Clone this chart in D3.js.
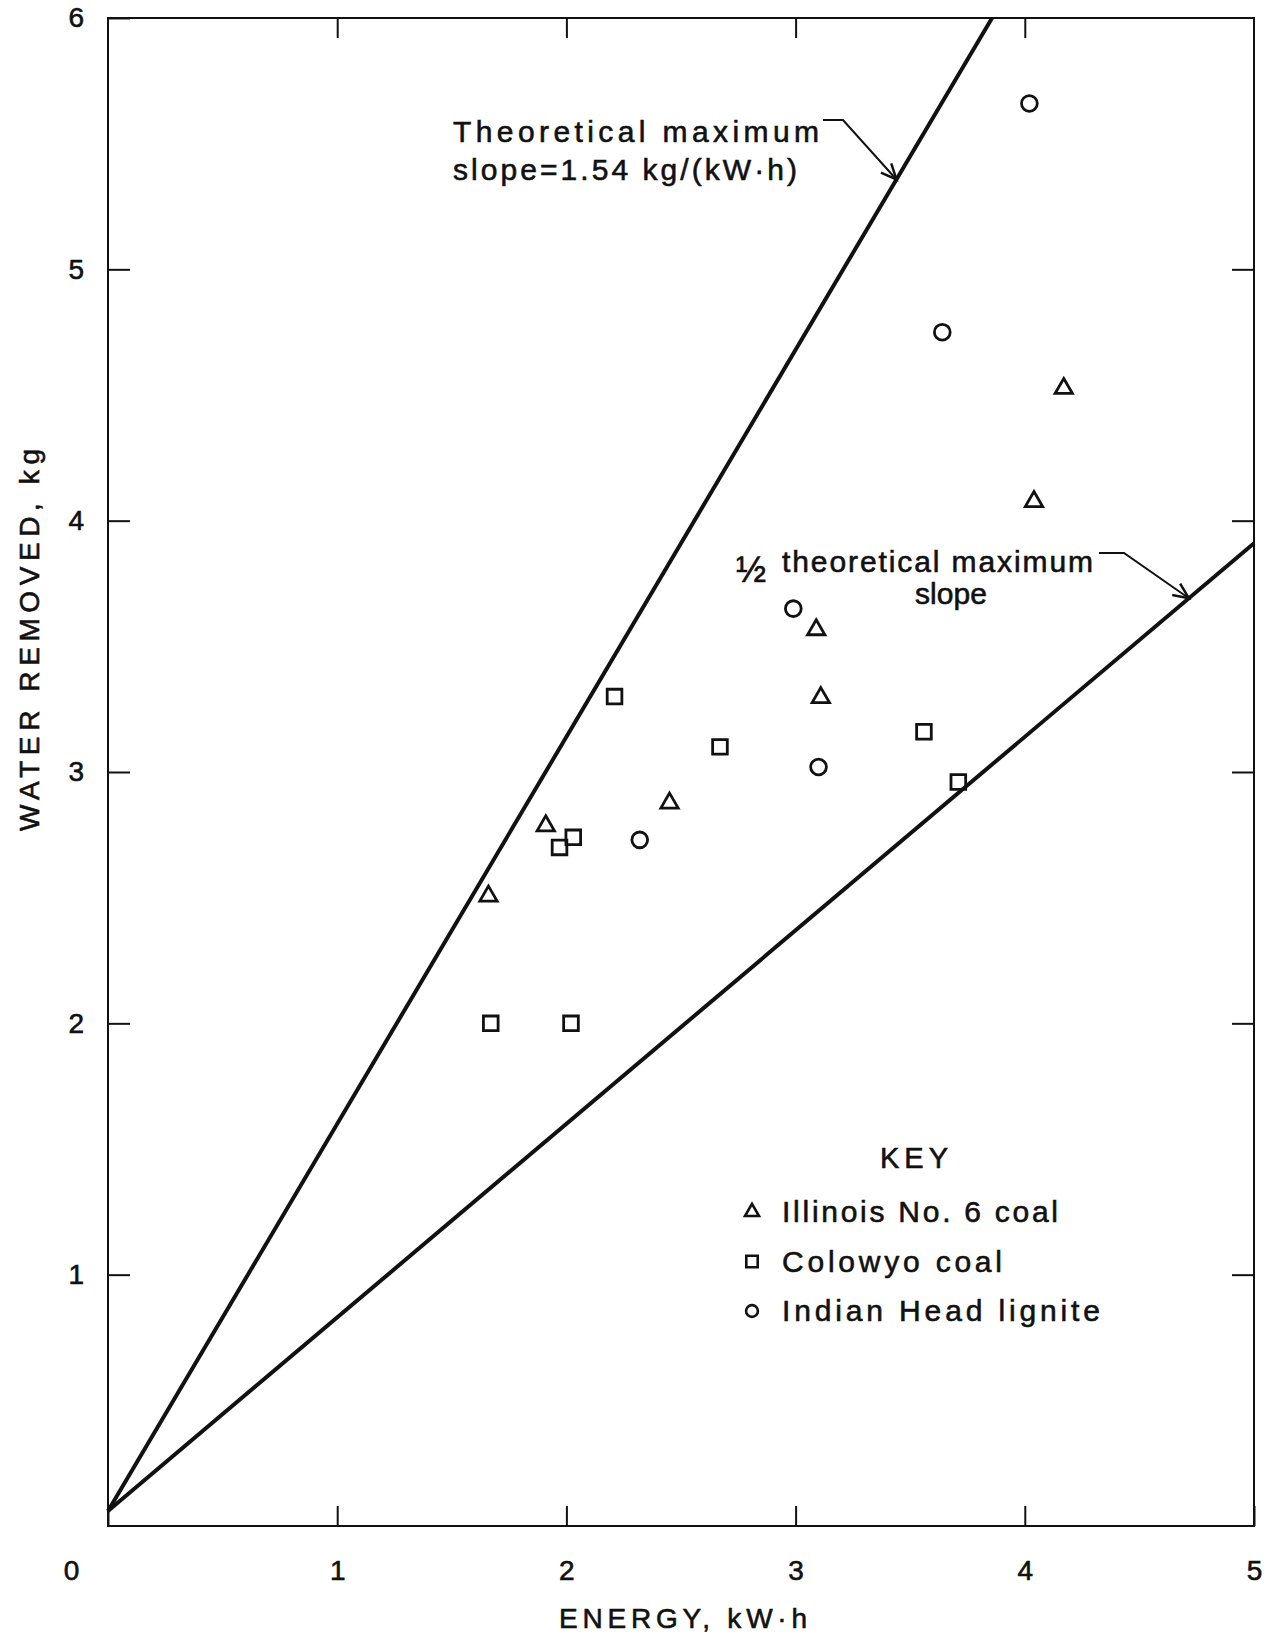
<!DOCTYPE html>
<html>
<head>
<meta charset="utf-8">
<script src="https://cdn.jsdelivr.net/npm/d3@7.9.0/dist/d3.min.js"></script>
<style>
  html, body { margin: 0; padding: 0; background: #fff; }
  svg { display: block; }
  text { font-family: "Liberation Sans", Arial, sans-serif; fill: #111; stroke: #111; stroke-width: 0.6px; }
</style>
</head>
<body>
<svg id="chart" width="1280" height="1638"></svg>
<script>
// data
const illinois = [
  [1.66, 2.51], [1.91, 2.79], [2.45, 2.88], [3.09, 3.57],
  [3.11, 3.30], [4.04, 4.08], [4.17, 4.53]
];
const colowyo = [
  [1.67, 2.00], [2.02, 2.00], [2.21, 3.30], [1.97, 2.70],
  [2.03, 2.74], [2.67, 3.10], [3.56, 3.16], [3.71, 2.96]
];
const indianHead = [
  [2.32, 2.73], [2.99, 3.65], [3.10, 3.02], [3.64, 4.75], [4.02, 5.66]
];
// theoretical lines: slope kg/(kW·h) and y where they leave the left axis
const slopes = [1.54, 0.77];
const intercept = 0.06;
const xTicks = [0, 1, 2, 3, 4, 5];
const yTicks = [1, 2, 3, 4, 5, 6];
const seriesNames = ['Illinois No. 6 coal', 'Colowyo coal', 'Indian Head lignite'];

const svg = d3.select('#chart');
const box = { left: 108, right: 1254, top: 18, bottom: 1526 };

const x = d3.scaleLinear().domain([0, 5]).range([box.left, box.right]);
const y = d3.scaleLinear().domain([0, 6]).range([box.bottom, box.top]);
const fmt = d3.format('d');

// axes with inward ticks on all four sides
const axisStyle = (g) => {
  g.select('.domain').remove();
  g.selectAll('.tick line').attr('stroke', '#111').attr('stroke-width', 2);
  g.selectAll('.tick text').style('font-size', '28px').attr('fill', '#111');
};

svg.append('g')
  .attr('transform', `translate(0,${box.bottom})`)
  .call(d3.axisBottom(x).tickValues(xTicks).tickFormat(fmt).tickSizeInner(-20).tickSizeOuter(0).tickPadding(34))
  .call(axisStyle)
  .selectAll('.tick')
  .filter(d => d === 0)
  .select('text').attr('dx', -37);

svg.append('g')
  .attr('transform', `translate(0,${box.top})`)
  .call(d3.axisTop(x).tickValues([1, 2, 3, 4]).tickSizeInner(-20).tickSizeOuter(0).tickFormat(''))
  .call(axisStyle);

svg.append('g')
  .attr('transform', `translate(${box.left},0)`)
  .call(d3.axisLeft(y).tickValues(yTicks).tickFormat(fmt).tickSizeInner(-22).tickSizeOuter(0).tickPadding(24))
  .call(axisStyle);

svg.append('g')
  .attr('transform', `translate(${box.right},0)`)
  .call(d3.axisRight(y).tickValues([1, 2, 3, 4, 5]).tickSizeInner(-22).tickSizeOuter(0).tickFormat(''))
  .call(axisStyle);

// frame
svg.append('rect')
  .attr('x', box.left).attr('y', box.top)
  .attr('width', box.right - box.left).attr('height', box.bottom - box.top)
  .attr('fill', 'none').attr('stroke', '#111').attr('stroke-width', 2);

// axis titles
svg.append('text')
  .attr('x', 683).attr('y', 1628)
  .attr('text-anchor', 'middle')
  .attr('textLength', 248).attr('lengthAdjust', 'spacing')
  .style('font-size', '28px')
  .text('ENERGY, kW·h');

svg.append('text')
  .attr('transform', 'translate(39,640) rotate(-90)')
  .attr('text-anchor', 'middle')
  .attr('textLength', 382).attr('lengthAdjust', 'spacing')
  .style('font-size', '28px')
  .text('WATER REMOVED, kg');

// slope lines, clipped to the frame
const line = d3.line().x(d => x(d[0])).y(d => y(d[1]));
slopes.forEach(s => {
  const xEnd = Math.min(5, (6 - intercept) / s);
  svg.append('path')
    .attr('d', line([[0, intercept], [xEnd, intercept + s * xEnd]]))
    .attr('fill', 'none').attr('stroke', '#111').attr('stroke-width', 4);
});

// annotations with leader arrows
function leader(points) {
  const [tx, ty] = points[points.length - 1];
  const [px, py] = points[points.length - 2];
  const ang = Math.atan2(ty - py, tx - px);
  const len = 17, spread = 0.42;
  svg.append('path')
    .attr('d', d3.line()(points))
    .attr('fill', 'none').attr('stroke', '#111').attr('stroke-width', 2);
  svg.append('path')
    .attr('d', d3.line()([
      [tx - len * Math.cos(ang - spread), ty - len * Math.sin(ang - spread)],
      [tx, ty],
      [tx - len * Math.cos(ang + spread), ty - len * Math.sin(ang + spread)]
    ]))
    .attr('fill', 'none').attr('stroke', '#111').attr('stroke-width', 2.5);
}

svg.append('text').attr('x', 453).attr('y', 142)
  .attr('textLength', 366).attr('lengthAdjust', 'spacing')
  .style('font-size', '30px').text('Theoretical maximum');
svg.append('text').attr('x', 453).attr('y', 180)
  .attr('textLength', 344).attr('lengthAdjust', 'spacing')
  .style('font-size', '30px').text('slope=1.54 kg/(kW·h)');
const tip1 = 3.44;
leader([[823, 120], [843, 120], [x(tip1), y(intercept + slopes[0] * tip1)]]);

svg.append('text').attr('x', 736).attr('y', 582)
  .style('font-size', '36px').text('½');
svg.append('text').attr('x', 782).attr('y', 572)
  .attr('textLength', 311).attr('lengthAdjust', 'spacing')
  .style('font-size', '30px').text('theoretical maximum');
svg.append('text').attr('x', 951).attr('y', 604)
  .attr('text-anchor', 'middle')
  .attr('textLength', 72).attr('lengthAdjust', 'spacing')
  .style('font-size', '30px').text('slope');
const tip2 = 4.716;
leader([[1099, 553], [1124, 553], [x(tip2), y(intercept + slopes[1] * tip2)]]);

// markers
const shapes = [d3.symbolTriangle, d3.symbolSquare, d3.symbolCircle];
const sizes = [130, 215, 195];
const series = [illinois, colowyo, indianHead];

series.forEach((pts, i) => {
  svg.append('g').selectAll('path')
    .data(pts)
    .join('path')
    .attr('transform', d => `translate(${x(d[0])},${y(d[1]) + (i === 0 ? 1 : 0)})`)
    .attr('d', d3.symbol().type(shapes[i]).size(sizes[i]))
    .attr('fill', 'none').attr('stroke', '#111').attr('stroke-width', 2.8);
});

// key
svg.append('text').attr('x', 914).attr('y', 1168)
  .attr('text-anchor', 'middle')
  .attr('textLength', 68).attr('lengthAdjust', 'spacing')
  .style('font-size', '29px').text('KEY');

const keyWidths = [276, 220, 318];
const keySizes = [85, 130, 110];
seriesNames.forEach((name, i) => {
  const base = 1222 + i * 49.5;
  svg.append('path')
    .attr('transform', `translate(752,${base - 10})`)
    .attr('d', d3.symbol().type(shapes[i]).size(keySizes[i]))
    .attr('fill', 'none').attr('stroke', '#111').attr('stroke-width', 2.6);
  svg.append('text').attr('x', 782).attr('y', base)
    .attr('textLength', keyWidths[i]).attr('lengthAdjust', 'spacing')
    .style('font-size', '30px').text(name);
});
</script>
</body>
</html>
